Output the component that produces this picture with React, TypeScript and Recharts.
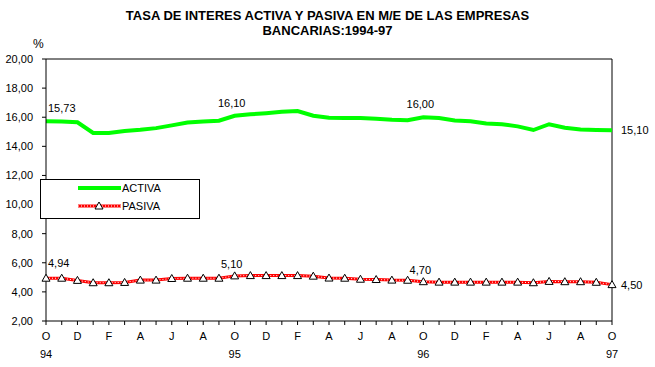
import React from 'react';
import { LineChart, Line, XAxis, YAxis, ReferenceLine, LabelList } from 'recharts';

const monthLetters = ['E', 'F', 'M', 'A', 'M', 'J', 'J', 'A', 'S', 'O', 'N', 'D'];
const startMonth = 9; // Octubre
const yearLabels = ['94', '95', '96', '97'];
const yTicks = [2, 4, 6, 8, 10, 12, 14, 16, 18, 20];

const activa = [
  15.73, 15.7, 15.65, 14.92, 14.92, 15.06, 15.14, 15.25, 15.44, 15.64, 15.71, 15.76,
  16.1, 16.2, 16.28, 16.37, 16.42, 16.1, 15.96, 15.94, 15.94, 15.9, 15.83, 15.8,
  16.0, 15.94, 15.78, 15.72, 15.57, 15.52, 15.37, 15.12, 15.52, 15.28, 15.16, 15.12,
  15.1,
];
const pasiva = [
  4.94, 4.94, 4.79, 4.63, 4.63, 4.65, 4.81, 4.81, 4.92, 4.94, 4.94, 4.94,
  5.1, 5.12, 5.12, 5.12, 5.12, 5.08, 4.95, 4.94, 4.87, 4.85, 4.81, 4.8,
  4.7, 4.67, 4.67, 4.67, 4.67, 4.67, 4.67, 4.63, 4.72, 4.7, 4.7, 4.66,
  4.5,
];
const labeledIdx = [0, 12, 24, 36];

const data = activa.map((a, i) => ({ i, activa: a, pasiva: pasiva[i] }));

const fmt = (v: number) => v.toFixed(2).replace('.', ',');
const FONT = 'Arial, "Liberation Sans", sans-serif';

const XTick = (props: any) => {
  const { x, y, payload } = props;
  const i = payload.value as number;
  const m = monthLetters[(startMonth + i) % 12];
  return (
    <g>
      {i % 2 === 0 && (
        <text x={x} y={y + 13} textAnchor="middle" fontSize={11} fontFamily={FONT} fill="#000">
          {m}
        </text>
      )}
      {i % 12 === 0 && (
        <text x={x} y={y + 31} textAnchor="middle" fontSize={11} fontFamily={FONT} fill="#000">
          {yearLabels[i / 12]}
        </text>
      )}
    </g>
  );
};

const makeLabel = (dyMid: number, dyFirst: number) => (props: any) => {
  const { x, y, value, index } = props;
  if (!labeledIdx.includes(index)) return null;
  let tx = x - 3;
  let ty = y + dyMid;
  let anchor: any = 'middle';
  if (index === 0) {
    tx = x + 2;
    ty = y + dyFirst;
    anchor = 'start';
  } else if (index === 36) {
    tx = x + 9;
    ty = y;
    anchor = 'start';
  }
  return (
    <text x={tx} y={ty} textAnchor={anchor} dominantBaseline="central" fontSize={11} fontFamily={FONT} fill="#000">
      {fmt(value)}
    </text>
  );
};

const Tri = (props: any) => {
  const { cx, cy, index } = props;
  if (cx == null || cy == null) return <g key={index} />;
  return (
    <path
      key={index}
      d={`M${cx},${cy - 4} L${cx - 4},${cy + 3} L${cx + 4},${cy + 3} Z`}
      fill="#fff"
      stroke="#000"
      strokeWidth={1}
    />
  );
};

const LegendBox = () => (
  <div
    style={{
      position: 'absolute',
      left: 40,
      top: 179,
      width: 158,
      height: 38,
      border: '1px solid #000',
      background: '#fff',
      fontFamily: FONT,
      fontSize: 11,
    }}
  >
    <svg width={158} height={38} style={{ position: 'absolute', left: 0, top: 0 }}>
      <line x1={37} y1={8} x2={80} y2={8} stroke="#00ff00" strokeWidth={4} />
      <text x={81} y={8} dominantBaseline="central" fontSize={11} fontFamily={FONT}>ACTIVA</text>
      <line x1={37} y1={26} x2={80} y2={26} stroke="#ff0000" strokeWidth={3} />
      <line x1={37} y1={26} x2={80} y2={26} stroke="#fff" strokeWidth={1} strokeDasharray="1 2" />
      <path d={`M58,22 L54,29 L62,29 Z`} fill="#fff" stroke="#000" />
      <text x={81} y={26} dominantBaseline="central" fontSize={11} fontFamily={FONT}>PASIVA</text>
    </svg>
  </div>
);

export default function App() {
  return (
    <div style={{ position: 'absolute', left: 0, top: 0, width: 655, height: 367, background: '#fff' }}>
      <div
        style={{
          position: 'absolute',
          left: 0,
          top: 8,
          width: 655,
          textAlign: 'center',
          fontFamily: FONT,
          fontWeight: 'bold',
          fontSize: 13,
          lineHeight: '15px',
        }}
      >
        TASA DE INTERES ACTIVA Y PASIVA EN M/E DE LAS EMPRESAS
        <br />
        BANCARIAS:1994-97
      </div>
      <div style={{ position: 'absolute', left: 33, top: 37, fontFamily: FONT, fontSize: 12 }}>%</div>
      <LineChart width={655} height={367} data={data} margin={{ top: 59, right: 43, bottom: 0, left: 0 }}>
        <XAxis
          dataKey="i"
          type="number"
          domain={[0, 36]}
          ticks={data.map((d) => d.i)}
          interval={0}
          height={46}
          tick={<XTick />}
          tickSize={4}
          tickLine={{ stroke: '#000' }}
          axisLine={{ stroke: '#000' }}
        />
        <YAxis
          type="number"
          domain={[2, 20]}
          ticks={yTicks}
          width={46}
          tickSize={4}
          tickMargin={9}
          tickFormatter={fmt}
          tick={{ fontSize: 11, fontFamily: FONT, fill: '#000' }}
          tickLine={{ stroke: '#000' }}
          axisLine={{ stroke: '#000' }}
          interval={0}
        />
        <ReferenceLine y={20} stroke="#000" />
        <ReferenceLine x={36} stroke="#000" />
        <Line
          type="linear"
          dataKey="activa"
          stroke="#00ff00"
          strokeWidth={4}
          dot={false}
          isAnimationActive={false}
        >
          <LabelList dataKey="activa" content={makeLabel(-13, -13)} />
        </Line>
        <Line
          type="linear"
          dataKey="pasiva"
          stroke="#ff0000"
          strokeWidth={3}
          dot={false}
          isAnimationActive={false}
        >
          <LabelList dataKey="pasiva" content={makeLabel(-12, -15)} />
        </Line>
        <Line
          type="linear"
          dataKey="pasiva"
          stroke="#ffffff"
          strokeWidth={1}
          strokeDasharray="1 2"
          dot={<Tri />}
          legendType="none"
          isAnimationActive={false}
        />
      </LineChart>
      <LegendBox />
    </div>
  );
}
